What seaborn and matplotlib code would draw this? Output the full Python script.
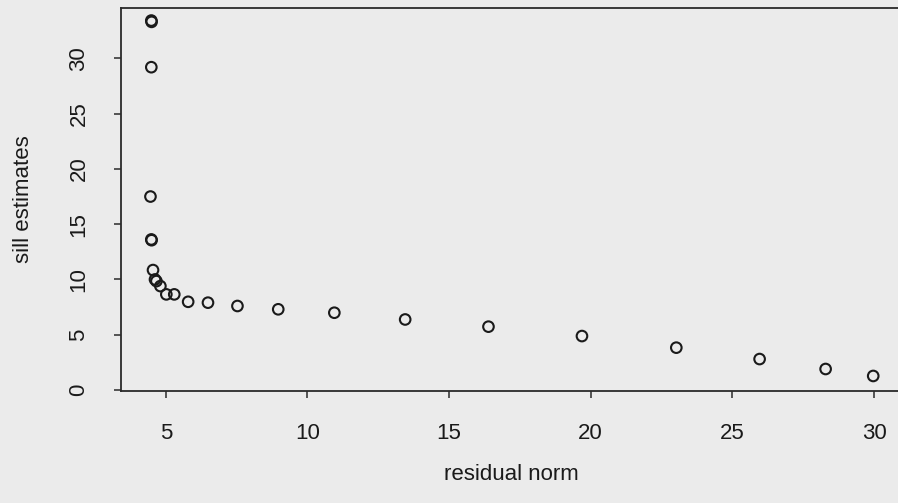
import matplotlib
matplotlib.use("Agg")
import matplotlib.pyplot as plt
import seaborn as sns
import pandas as pd

# residual norm vs. sill estimate for each fitted variogram
residual_norm = [4.49, 4.50, 4.49, 4.46, 4.49, 4.50, 4.55, 4.62, 4.67, 4.81,
                 5.02, 5.30, 5.79, 6.49, 7.53, 8.97, 10.95, 13.45, 16.39,
                 19.69, 23.02, 25.96, 28.29, 29.97]
sill_estimates = [33.42, 33.3, 29.2, 17.5, 13.62, 13.55, 10.85, 10.0, 9.85, 9.4,
                  8.65, 8.65, 7.98, 7.9, 7.6, 7.3, 6.99, 6.38, 5.73,
                  4.88, 3.83, 2.80, 1.90, 1.27]
x_ticks = [5, 10, 15, 20, 25, 30]
y_ticks = [0, 5, 10, 15, 20, 25, 30]

df = pd.DataFrame({"residual norm": residual_norm, "sill estimates": sill_estimates})

sns.set_theme(style="ticks")
plt.rcParams["font.family"] = ["Liberation Sans", "DejaVu Sans"]

bg = "#ebebeb"
ink = "#1a1a1a"

fig = plt.figure(figsize=(8.98, 5.03), dpi=100, facecolor=bg)
W, H = 898, 503
ax = fig.add_axes([121 / W, (H - 391) / H, (902.4 - 121) / W, (391 - 7.5) / H])
ax.set_facecolor(bg)

sns.scatterplot(data=df, x="residual norm", y="sill estimates", ax=ax,
                marker="o", s=58, facecolor="none", edgecolor=ink,
                linewidth=1.5, legend=False, clip_on=False)

ax.set_xlim(3.42, 31.0)
ax.set_ylim(-0.09, 34.6)
ax.set_xticks(x_ticks)
ax.set_yticks(y_ticks)
ax.set_xticklabels([str(v) for v in x_ticks])
ax.set_yticklabels([str(v) for v in y_ticks], rotation=90, va="center", ha="right")

for side in ["left", "right", "top", "bottom"]:
    ax.spines[side].set_visible(True)
    ax.spines[side].set_color("#2a2a2a")
    ax.spines[side].set_linewidth(1.3)

ax.tick_params(axis="both", direction="out", length=5.2, width=1.1,
               color="#2a2a2a", labelsize=16, labelcolor=ink)
ax.tick_params(axis="x", pad=17.5)
ax.tick_params(axis="y", pad=17.5)

ax.set_xlabel("residual norm", fontsize=16, color=ink, labelpad=15)
ax.set_ylabel("sill estimates", fontsize=16, color=ink, labelpad=25)

fig.savefig("out.png", dpi=100, facecolor=bg)
